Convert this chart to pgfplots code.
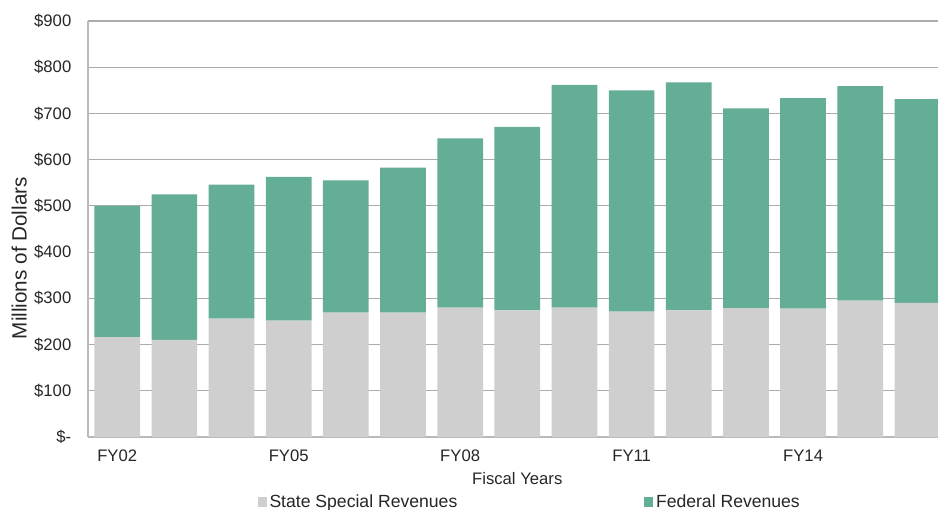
\documentclass[border=0pt]{standalone}
\usepackage{pgfplots}
\pgfplotsset{compat=1.18}
\usepackage{fontspec}
\setmainfont{Liberation Sans}
\definecolor{fedgreen}{RGB}{100,173,150}
\definecolor{stategray}{RGB}{208,207,208}
\begin{document}
\begin{tikzpicture}
\begin{axis}[
  scale only axis, width=637.5pt, height=312pt,
  ybar stacked, bar width=0.8,
  xmin=-0.511, xmax=14.36, ymin=0, ymax=900,
  axis x line*=bottom, axis y line*=left,
  axis line style={draw=gray!55, line width=0.8pt, -},
  xtick={0,3,6,9,12}, xticklabels={FY02,FY05,FY08,FY11,FY14},
  ytick={0,100,200,300,400,500,600,700,800,900},
  yticklabels={\$-,\$100,\$200,\$300,\$400,\$500,\$600,\$700,\$800,\$900},
  major tick length=0pt,
  ymajorgrids, grid style={gray!65, line width=0.8pt},
  /pgf/number format/assume math mode=true,
  tick label style={font=\fontsize{12.5}{14}\selectfont, text=black!85},
  xticklabel style={yshift=-6pt},
  yticklabel style={xshift=-9pt},
  xlabel={Fiscal Years}, ylabel={Millions of Dollars},
  every axis x label/.style={at={(axis description cs:0.505,0)}, anchor=center, yshift=-31.5pt, font=\fontsize{12.5}{14}\selectfont, text=black!85},
  every axis y label/.style={at={(axis description cs:-0.081,0.43)}, anchor=center, rotate=90, font=\fontsize{15.5}{17}\selectfont, text=black!85},
  legend columns=2,
  legend style={at={(axis description cs:0.52,-0.156)}, anchor=center, draw=none, font=\fontsize{13.2}{15}\selectfont, text=black!85, /tikz/every even column/.append style={column sep=138pt}},
  legend image code/.code={\fill[#1] (0pt,-3.5pt) rectangle (7pt,3.5pt);},
]
\addplot[fill=stategray, draw=none] coordinates {
 (0,216) (1,210) (2,256) (3,252) (4,269) (5,269) (6,280) (7,274)
 (8,280) (9,271) (10,274) (11,279) (12,278) (13,295) (14,290)};
\addplot[fill=fedgreen, draw=none] coordinates {
 (0,284) (1,315) (2,290) (3,311) (4,286) (5,314) (6,366) (7,397)
 (8,482) (9,479) (10,493) (11,432) (12,455) (13,464) (14,441)};
\legend{State Special Revenues, Federal Revenues}
\end{axis}
\pgfresetboundingbox
\path[use as bounding box] (current axis.south west) ++(-66pt,-54.75pt) rectangle ++(703.5pt,382.5pt);
\end{tikzpicture}
\end{document}
